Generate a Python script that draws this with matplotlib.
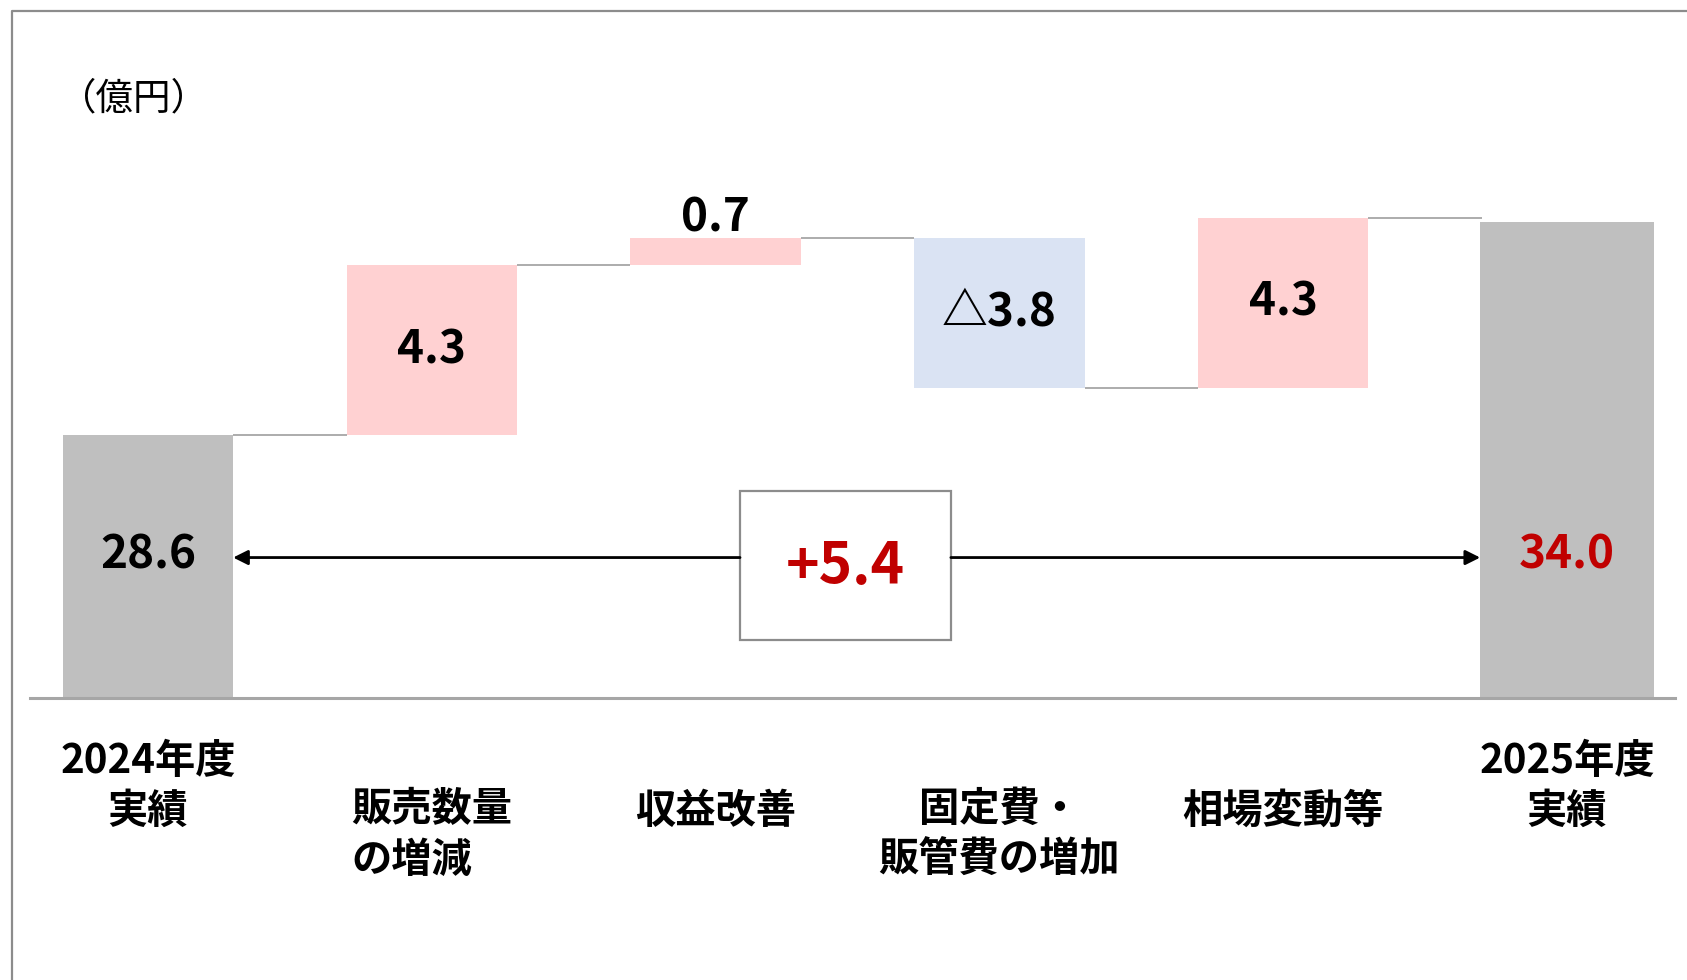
import matplotlib
matplotlib.use("Agg")
import matplotlib.pyplot as plt
from matplotlib.lines import Line2D
from matplotlib.patches import Rectangle
from matplotlib.transforms import blended_transform_factory

plt.rcParams['font.family'] = ['Noto Sans CJK JP', 'DejaVu Sans']

# ---------------- data ----------------
categories = ["2024年度\n実績", "販売数量\nの増減", "収益改善",
              "固定費・\n販管費の増加", "相場変動等", "2025年度\n実績"]
start_value = 28.6
deltas = [4.3, 0.7, -3.8, 4.3]
end_value = 34.0
total_change = 5.4
unit_label = "（億円）"

# ---------------- style ----------------
GRAY = "#BFBFBF"
PINK = "#FFD1D2"
BLUE = "#DAE3F3"
RED = "#C00000"
LINE_GRAY = "#A6A6A6"
FRAME_GRAY = "#8C8C8C"

W, H = 1687, 980
fig = plt.figure(figsize=(W / 100, H / 100), dpi=100)
fig.patch.set_facecolor("white")

ax_left, ax_right = 30, 1675
ax_bottom, ax_top = 698, 120
ax = fig.add_axes([ax_left / W, (H - ax_bottom) / H,
                   (ax_right - ax_left) / W, (ax_bottom - ax_top) / H])

px_per_unit = 39.44
ymin = start_value - (ax_bottom - 435) / px_per_unit
ymax = ymin + (ax_bottom - ax_top) / px_per_unit
ax.set_ylim(ymin, ymax)
ax.set_xlim(-0.4158, 5.3805)

bw = 0.6
n = len(categories)
xs = list(range(n))

# bars
ax.bar(xs[0], start_value, width=bw, color=GRAY, zorder=2)
running = start_value
levels = [start_value]
for i, d in enumerate(deltas, start=1):
    bottom = running if d > 0 else running + d
    ax.bar(xs[i], abs(d), bottom=bottom, width=bw,
           color=PINK if d > 0 else BLUE, zorder=2)
    running += d
    levels.append(running)
ax.bar(xs[-1], end_value, width=bw * 1.02, color=GRAY, zorder=2)

# connectors
for i in range(n - 1):
    lv = levels[i]
    ax.plot([xs[i] + bw / 2, xs[i + 1] - bw / 2], [lv, lv],
            color=LINE_GRAY, lw=1.3, zorder=1, solid_capstyle="butt")

# spines
for s in ["top", "left", "right"]:
    ax.spines[s].set_visible(False)
ax.spines["bottom"].set_color(LINE_GRAY)
ax.spines["bottom"].set_linewidth(2.2)
ax.set_xticks([])
ax.set_yticks([])

trans = blended_transform_factory(ax.transData, ax.transAxes)

# value labels
def fmt(v):
    return ("△" if v < 0 else "") + f"{abs(v):.1f}"

lab_y = 0.247
ax.text(xs[0], lab_y, fmt(start_value), transform=trans, ha="center",
        va="center", fontsize=33, fontweight="bold", color="black", zorder=4)
ax.text(xs[-1], lab_y, fmt(end_value), transform=trans, ha="center",
        va="center", fontsize=33, fontweight="bold", color=RED, zorder=4)
running = start_value
for i, d in enumerate(deltas, start=1):
    lo = running if d > 0 else running + d
    hi = lo + abs(d)
    if abs(d) < 1.0:
        ax.annotate(fmt(d), xy=(xs[i], hi), xytext=(0, -3),
                    textcoords="offset points", ha="center", va="bottom",
                    fontsize=33, fontweight="bold", color="black")
    else:
        ax.text(xs[i], (lo + hi) / 2, fmt(d), ha="center", va="center",
                fontsize=33, fontweight="bold", color="black", zorder=4)
    running += d

# total change box with arrows
box_l, box_r = 2.086, 2.829
box_b, box_t = 0.100, 0.358
ax.add_patch(Rectangle((box_l, box_b), box_r - box_l, box_t - box_b,
                       transform=trans, facecolor="white",
                       edgecolor=FRAME_GRAY, lw=1.6, zorder=3))
ax.text((box_l + box_r) / 2, 0.226, f"+{total_change:.1f}", transform=trans,
        ha="center", va="center", fontsize=41, fontweight="bold",
        color=RED, zorder=4)
arrow_y = 0.243
ap = dict(arrowstyle="-|>", color="black", lw=2.0, mutation_scale=22,
          shrinkA=0, shrinkB=0)
ax.annotate("", xy=(xs[0] + bw / 2, arrow_y), xytext=(box_l, arrow_y),
            xycoords=trans, textcoords=trans, arrowprops=ap, zorder=3)
ax.annotate("", xy=(xs[-1] - bw * 1.02 / 2, arrow_y), xytext=(box_r, arrow_y),
            xycoords=trans, textcoords=trans, arrowprops=ap, zorder=3)

# category labels
for i, c in enumerate(categories):
    lines = c.split("\n")
    if c.startswith("20"):
        y = -0.153
    elif len(lines) == 2:
        y = -0.237
    else:
        y = -0.1965
    malign = "left" if c.startswith("販売数量") else "center"
    ax.text(xs[i], y, c, transform=trans, ha="center", va="center",
            multialignment=malign, fontsize=29, fontweight="bold",
            color="black", linespacing=1.3)

# unit label
fig.text(59 / W, 1 - 99 / H, unit_label, ha="left", va="center",
         fontsize=27, color="black")

# outer frame (left and top edges)
fig.add_artist(Line2D([12 / W, 12 / W, 1.0], [0.0, 1 - 11 / H, 1 - 11 / H],
                      transform=fig.transFigure, color=FRAME_GRAY, lw=1.6))

fig.savefig("out.png", dpi=100, facecolor="white")
